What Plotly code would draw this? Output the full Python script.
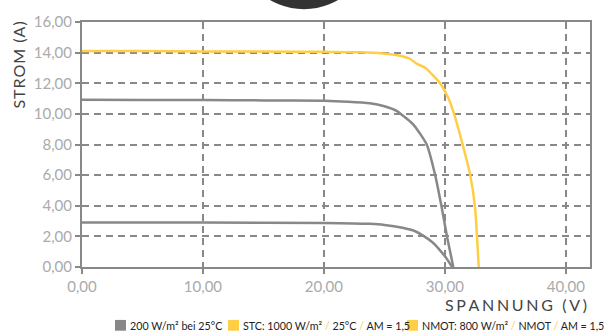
import plotly.graph_objects as go

# ---- data ----
stc_v = [0, 5, 10, 15, 20, 23, 24.9, 26.3, 27.1, 27.7, 28.4, 29.6, 30.3, 30.8, 31.5, 32.1, 32.5, 32.8]
stc_i = [14.1, 14.1, 14.08, 14.07, 14.05, 14.03, 13.95, 13.8, 13.6, 13.27, 13.0, 12.0, 11.0, 9.9, 7.9, 6.0, 3.85, 0]

nmot_v = [0, 5, 10, 15, 20, 22, 23.8, 25, 26, 27.4, 28.5, 29.2, 29.75, 30.2, 30.7]
nmot_i = [10.92, 10.91, 10.9, 10.88, 10.85, 10.8, 10.7, 10.5, 10.2, 9.3, 8.0, 6.0, 3.85, 1.9, 0]

low_v = [0, 10, 20, 23.8, 25, 26.5, 27.5, 28.2, 29, 29.6, 30.1, 30.6]
low_i = [2.9, 2.9, 2.88, 2.82, 2.75, 2.56, 2.35, 2.05, 1.6, 1.09, 0.6, 0]

x_ticks = [0, 10, 20, 30, 40]
x_labels = ["0,00", "10,00", "20,00", "30,00", "40,00"]
y_ticks = [0, 2, 4, 6, 8, 10, 12, 14, 16]
y_labels = ["0,00", "2,00", "4,00", "6,00", "8,00", "10,00", "12,00", "14,00", "16,00"]

YEL = "#FFCE45"
GRAY = "#888888"
FONT = "Lato"

fig = go.Figure()
for v, i, c in [(low_v, low_i, GRAY), (nmot_v, nmot_i, GRAY), (stc_v, stc_i, YEL)]:
    fig.add_trace(go.Scatter(x=v, y=i, mode="lines", line=dict(color=c, width=2.5, shape="spline", smoothing=0.5),
                             showlegend=False, hoverinfo="skip"))

L, R, T, B = 82, 16, 17, 67
W, H = 606, 334
pw, ph = W - L - R, H - T - B

def px(x):
    return (x - L) / pw

def py(y):
    return (H - B - y) / ph

axis_common = dict(showline=True, linecolor=GRAY, linewidth=2, mirror=True,
                   showgrid=True, gridcolor=GRAY, gridwidth=1.6, griddash="7px,5px",
                   ticks="outside", ticklen=5, tickwidth=1.6, tickcolor=GRAY,
                   tickfont=dict(family=FONT, size=15, color="#aaaaaa"), zeroline=False)

fig.update_layout(
    width=W, height=H, margin=dict(l=L, r=R, t=T, b=B),
    paper_bgcolor="white", plot_bgcolor="white",
    xaxis=dict(range=[0, 42], tickvals=x_ticks, ticktext=x_labels, **axis_common),
    yaxis=dict(range=[0, 16], tickvals=y_ticks, ticktext=y_labels, **axis_common),
    showlegend=False,
)

def spaced(s, sp):
    return sp.join(list(s))

annotations = [
    dict(text=spaced("SPANNUNG (V)", "\u2006"), x=px(589), y=py(305), xref="paper", yref="paper",
         xanchor="right", yanchor="middle", showarrow=False,
         font=dict(family=FONT, size=16, color="#444444")),
    dict(text=spaced("STROM (A)", "\u200a"), x=px(19), y=py(61.5), xref="paper", yref="paper",
         xanchor="center", yanchor="middle", textangle=-90, showarrow=False,
         font=dict(family=FONT, size=16, color="#444444")),
]

slash = f'<span style="color:{YEL}">/</span>'
legend_items = [
    (115, GRAY, "200 W/m² bei 25°C"),
    (228, YEL, f"STC: 1000 W/m² {slash} 25°C {slash} AM = 1,5"),
    (407, YEL, f"NMOT: 800 W/m² {slash} NMOT {slash} AM = 1,5"),
]
shapes = [dict(type="circle", xref="paper", yref="paper", x0=px(304 - 66), x1=px(304 + 66),
               y0=py(4), y1=py(-128), fillcolor="#333333", line=dict(width=0), layer="above")]
for x0, col, txt in legend_items:
    shapes.append(dict(type="rect", xref="paper", yref="paper", x0=px(x0), x1=px(x0 + 11),
                       y0=py(332), y1=py(321), fillcolor=col, line=dict(width=0)))
    annotations.append(dict(text=txt, x=px(x0 + 13), y=py(326.5), xref="paper", yref="paper",
                            xanchor="left", yanchor="middle", showarrow=False,
                            font=dict(family=FONT, size=10.7, color="#222222")))

fig.update_layout(annotations=annotations, shapes=shapes)
fig.write_html("out.html", config={"displayModeBar": False},
               post_script="document.body.style.margin='0px';document.body.style.padding='0px';")
